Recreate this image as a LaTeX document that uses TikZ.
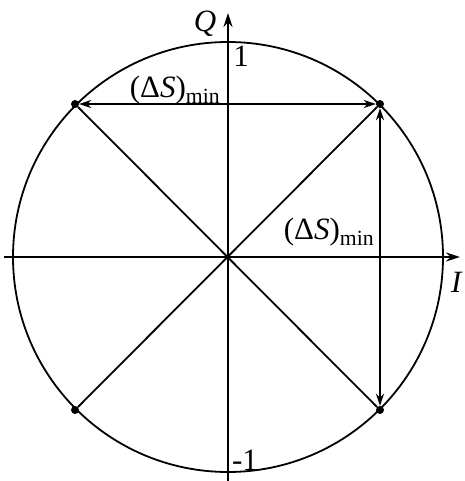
\documentclass[tikz,border=0pt]{standalone}
\usepackage{fontspec}
\setmainfont{Liberation Serif}
\usetikzlibrary{arrows.meta}
\begin{document}
\begin{tikzpicture}[x=1pt,y=-1pt,
  ln/.style={line width=1.8pt},
  dot/.style={circle,fill=black,inner sep=0pt,minimum size=8pt},
  arr/.style={ln,{Stealth[length=12pt,width=8pt]}-{Stealth[length=12pt,width=8pt]}},
  lbl/.style={font=\fontsize{31}{34}\selectfont,inner sep=0pt}]
\useasboundingbox (0,0) rectangle (464,481);
\coordinate (O) at (228,257);
\draw[ln] (O) circle (215);
\coordinate (xl) at (4,257);
\coordinate (xr) at (460,257);
\coordinate (yb) at (228,481);
\coordinate (yt) at (228,13);
\draw[ln,-{Stealth[length=14pt,width=9pt]}] (xl) -- (xr);
\draw[ln,-{Stealth[length=14pt,width=9pt]}] (yb) -- (yt);
\node[dot] (p1) at (75,104) {};
\node[dot] (p2) at (380,104) {};
\node[dot] (p3) at (75,410) {};
\node[dot] (p4) at (380,410) {};
\draw[ln] (p1) -- (p4);
\draw[ln] (p2) -- (p3);
\draw[arr] (p1) -- (p2);
\draw[arr] (p2) -- (p4);
\node[lbl] (h) at (175,90) {(Δ\textit{S})\textsubscript{min}};
\node[lbl] (v) at (329,232) {(Δ\textit{S})\textsubscript{min}};
\node[lbl] (q) at (205,24) {\textit{Q}};
\node[lbl] (i) at (457,282) {\textit{I}};
\node[lbl] (one) at (241,56) {1};
\node[lbl] (mone) at (245,460) {-1};
\end{tikzpicture}
\end{document}
